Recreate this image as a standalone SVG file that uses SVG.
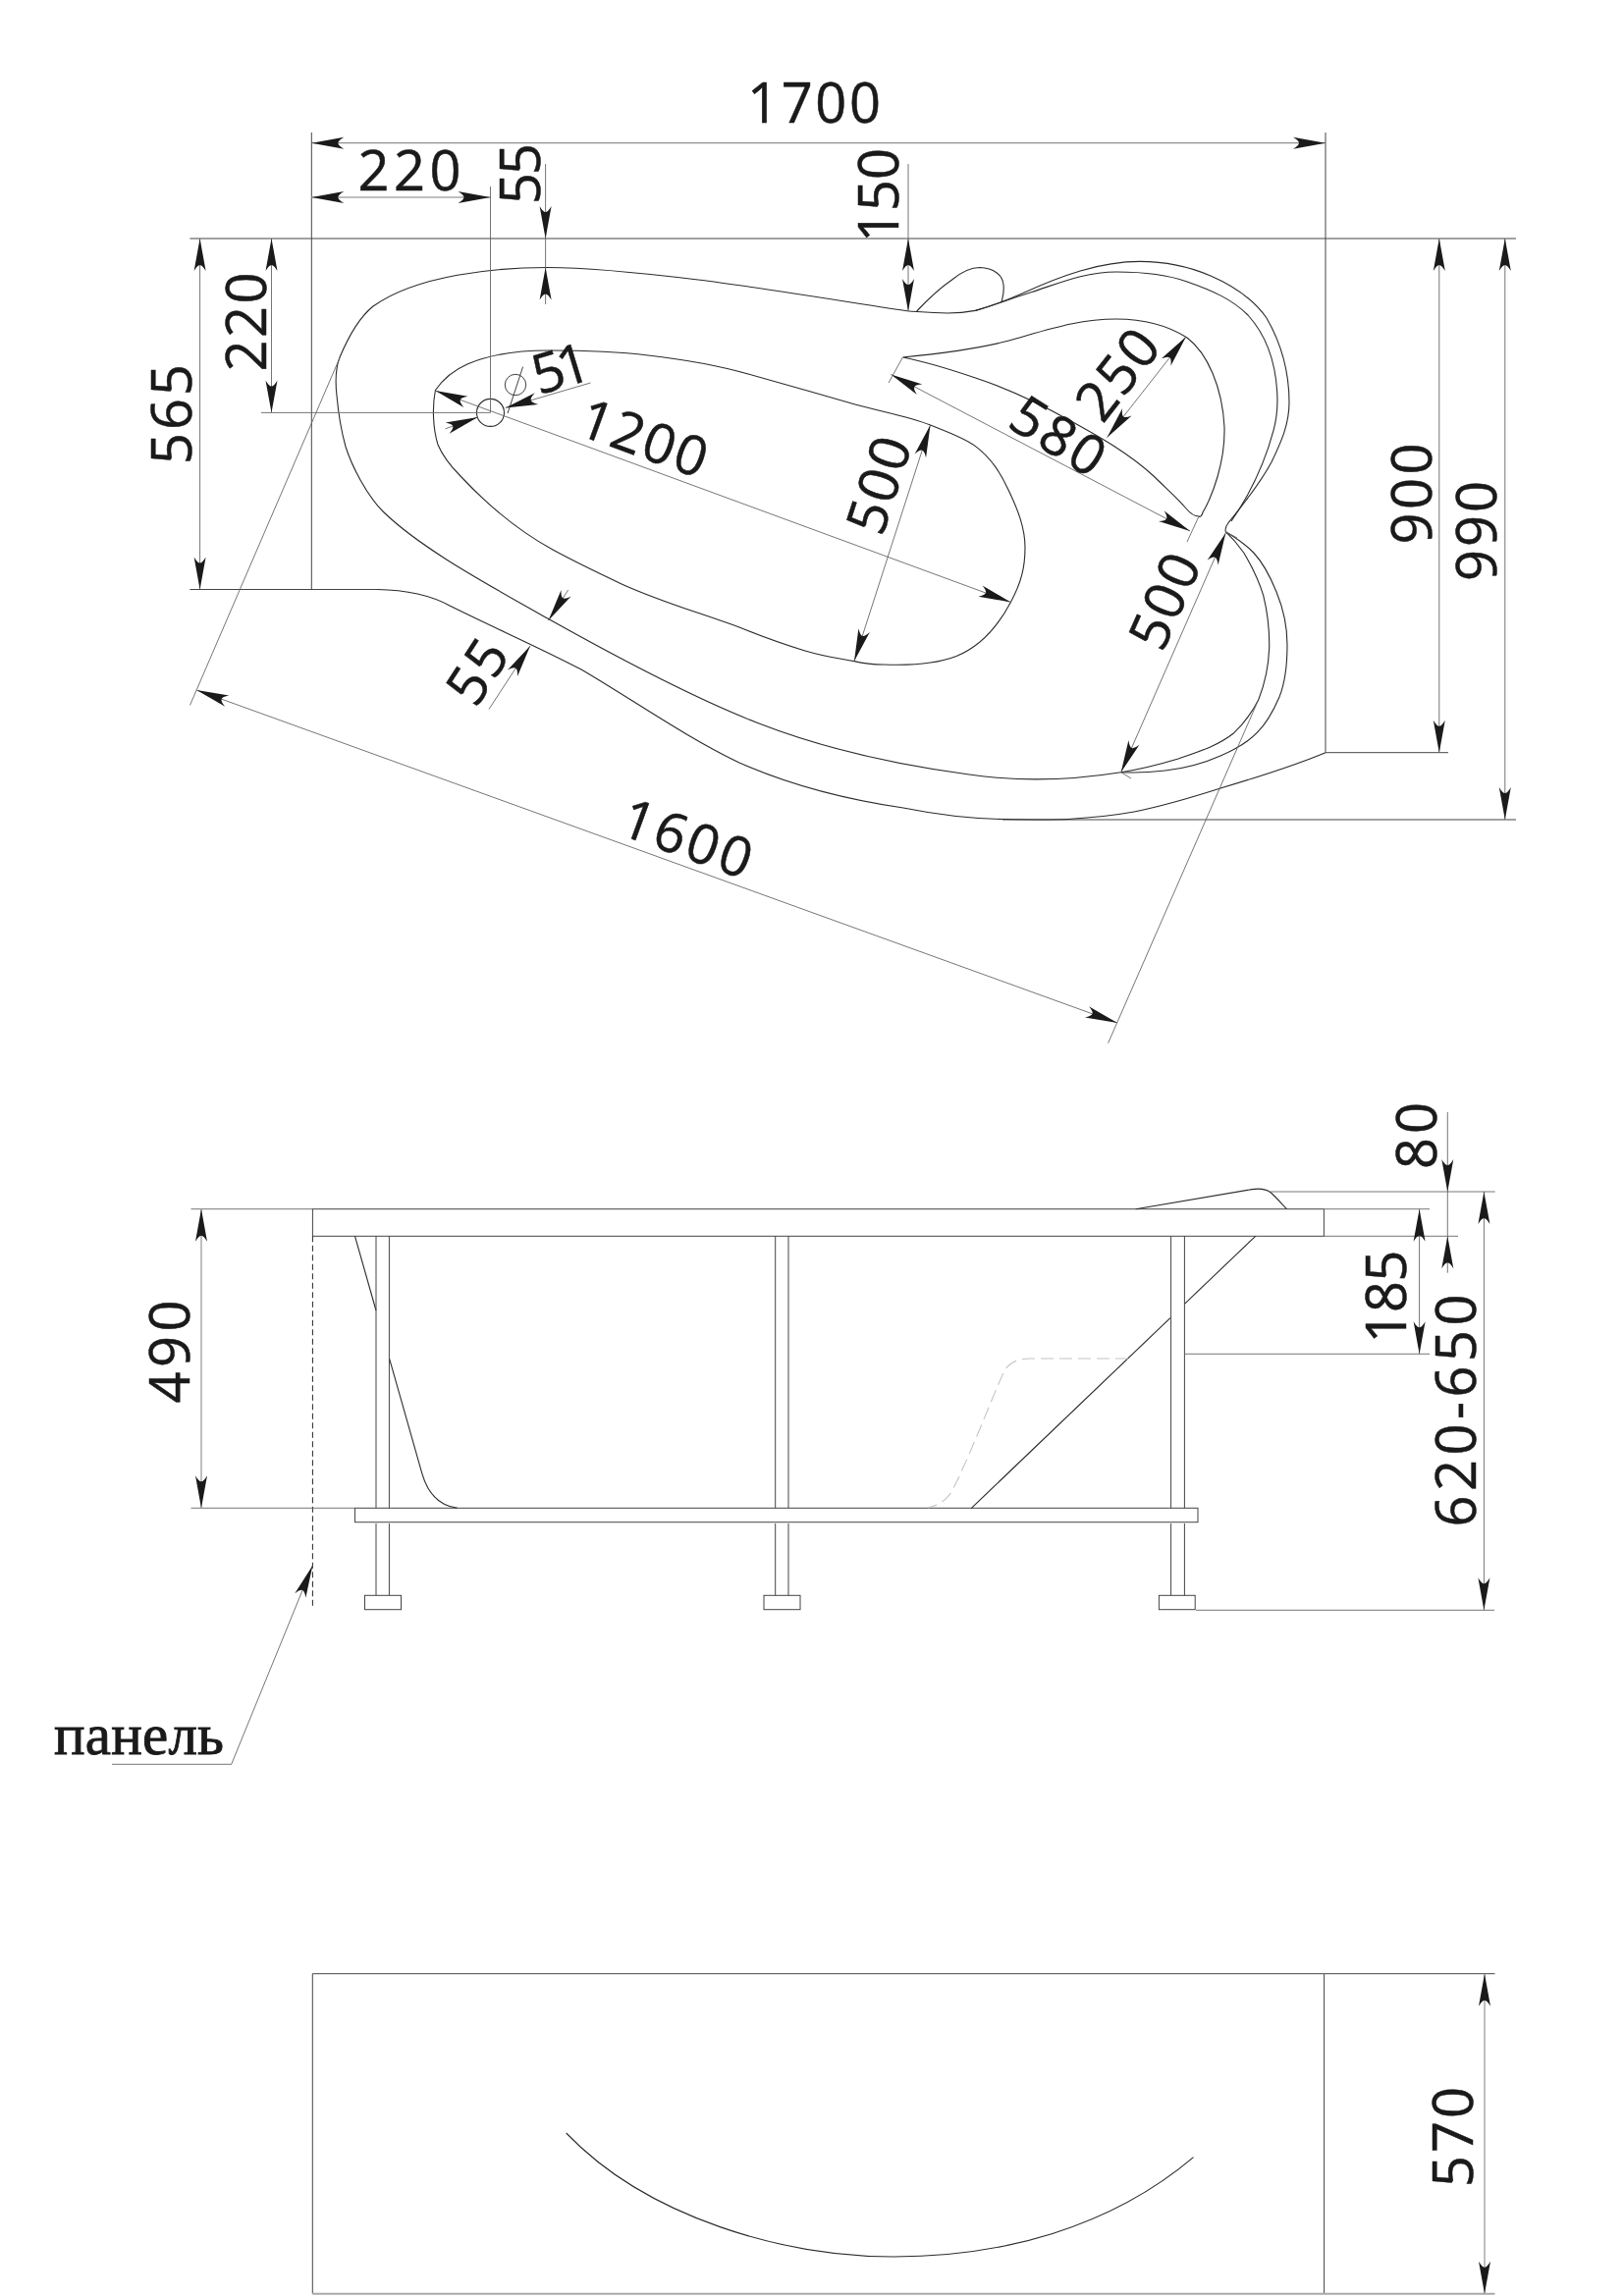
<svg xmlns="http://www.w3.org/2000/svg" width="1654" height="2339" viewBox="0 0 1654 2339">
<style>
.o{fill:none;stroke:#2b2b2b;stroke-width:1.1}
.t{fill:none;stroke:#444;stroke-width:1}
.d{fill:none;stroke:#666;stroke-width:.9}
.a{marker-end:url(#ah)}
.aa{marker-end:url(#ah);marker-start:url(#ah)}
.lg{stroke:#aaa;stroke-width:1.5}
.dash{fill:none;stroke:#222;stroke-width:1;stroke-dasharray:6 3.5}
.gd{fill:none;stroke:#c4c4c4;stroke-width:1.1;stroke-dasharray:13 6}
text{font-family:"Open Sans","Noto Sans",sans-serif;font-size:56px;fill:#1a1a1a;text-anchor:middle;stroke:#1a1a1a;stroke-width:.5}
.ru{font-family:"Liberation Serif",serif;font-size:59px;text-anchor:start;stroke-width:.9}
</style>
<defs>
<marker id="ah" markerUnits="userSpaceOnUse" markerWidth="36" markerHeight="13" refX="36" refY="6.5" orient="auto-start-reverse">
<path d="M36,6.5 L3,.5 Q9,4 9,6.5 Q9,9 3,12.5 Z" fill="#1a1a1a"/>
</marker>
</defs>
<rect width="1654" height="2339" fill="#fff"/>

<g id="plan-view">
<path id="frame" class="t" d="M317.3,135 V600.5 M193.4,243 H1544 M1350,135 V766.7 H1475 M1021,835 H1544 M193.4,600.5 H384"/>
<path id="outer-edge" class="o" d="M384,600.5 C412,601 438,606 458,617 C500,638 550,660 592,682 C640,710 700,752 753,777 C805,800 865,815 920,823 C955,830 990,834 1021,834.5 C1045,835 1066,835.5 1088,834.5 C1112,833 1133,831 1155,827 C1185,821 1215,812 1243,803 C1280,792 1318,780 1350,766.7"/>
<path id="rim" class="o" d="M925.5,317 C890,312 772,292.4 711,285 C650,277.6 600,272.5 558,272.5 C505,272.5 425,280 380,312 C365,324 354,345 346,364 C341,377 341.5,390 343,403 C344.5,420 347,437 352,455 C358,474 373,504 390,521 C430,560 500,597 558.6,630.6 C620,665 705,711 773,737 C845,765 920,780 987,789 C1035,796 1090,795 1141.7,786.7"/>
<path id="shell-outer" class="o" d="M925.5,317 C940,318 950,319 965,319 C975,319 985,318 993.5,316.4 C1010,312 1025,306 1041,299 C1080,281 1120,266.4 1161,266.4 C1188,266.4 1212,272 1233,281 C1256,291 1276,304 1290,324 C1305,350 1313,380 1313,410 C1313,432 1305,450 1295,470.7 C1282,495 1265,515 1252,531.4 C1250,534 1247,537 1248.3,541.7"/>
<path id="shell-inner" class="o" d="M993.5,316.4 C1012,311 1030,304 1051,297.5 C1080,288 1105,277 1137,277 C1162,277 1187,279 1209,287 C1235,296 1255,305 1271,321 C1290,342 1299,370 1300.7,399 C1301.5,412 1301,424 1297,438.6 C1288,472 1272,505 1254,531"/>
<path id="loop-outer" class="o" d="M1248.3,541.7 C1259,548 1268,554 1276.7,563 C1287,574 1294,588 1300,603 C1307,620 1311,638 1311,656.7 C1311,676 1309,695 1303,710 C1297,724 1290,737 1280,746.7 C1270,757 1257,764 1243,770 C1225,778 1205,783 1186.7,785 C1170,787 1155,787.5 1141.7,786.7"/>
<path id="loop-inner" class="o" d="M1248.3,541.7 C1255,548 1261,555 1266.7,563 C1275,577 1282,591 1286.7,606.7 C1291,624 1293,642 1292.7,660 C1292,679 1288,697 1281.7,713 C1275,726 1267,737 1256.7,746.7 C1240,760 1220,766 1200,773 C1180,779 1160,784 1141.7,786.7"/>
<path id="bowl" class="o" d="M443.4,397.5 C452,385 462,377 476.5,370.7 C500,361 530,357 558,357 C595,357 628,358 660,362 C695,366 730,372 762,381 C797,391 830,400 864,410 C895,419 925,424 947.5,433 C965,440 982,446 993.5,454.6 C1010,467 1019,482 1027,499 C1037,520 1044,538 1044,558 C1044,578 1040,594 1029.4,613.4 C1018,635 1000,658 974,668.5 C952,677 925,678 900,677 C890,677 880,676 870,673.6 C850,670 840,669 820,663 C797,656 775,648 753,639 C712,624 670,612 632,594.4 C610,584 585,572 563,560 C530,542 498,516 469,485 C458,474 451,465 446,453 C441,437 440,415 443.4,397.5 Z"/>
<path id="headrest" class="o" d="M919.4,364 C960,360 1000,355 1032,345.7 C1070,335 1100,325 1137,325 C1165,325 1190,332 1209,344 C1230,360 1245,395 1247,435 C1248,470 1235,505 1225,522 C1224,526 1222,527 1221,526 C1217,526 1213,524 1208,518 C1197,505 1187,497 1175,485 C1150,462 1120,445 1089,428 C1060,412 1030,397 993.5,385 C970,377 945,369 919.4,364 Z"/>
<path id="pillow" class="o" d="M933.7,317 C945,305 955,295 969.6,285 C978,278 988,272.5 998,272.5 C1012,273 1021,280 1022,290 C1023,298 1021,303 1020,308"/>
<circle id="drain" class="o" cx="499.5" cy="420.4" r="14"/>
<g id="diameter-mark" class="o" style="stroke-width:.9"><circle cx="525" cy="392" r="10.7"/><path d="M532.6,373.6 L517,421"/></g>
</g>

<g id="plan-dimensions">
<line class="d aa" x1="317.3" y1="145.7" x2="1350" y2="145.7"/>
<line class="d aa lg" x1="317.3" y1="201" x2="499.5" y2="201"/>
<path class="d" d="M499.5,190 V420.4 H266"/>
<path class="d" d="M555.6,243 V272.5"/>
<line class="d a" x1="555.6" y1="167" x2="555.6" y2="243"/>
<line class="d a" x1="555.6" y1="310" x2="555.6" y2="272.5"/>
<path class="d" d="M925,167 V243"/>
<line class="d aa" x1="925" y1="243" x2="925" y2="317"/>
<line class="d aa" x1="276.5" y1="243" x2="276.5" y2="420.4"/>
<line class="d aa" x1="203.6" y1="243" x2="203.6" y2="600.5"/>
<line class="d aa" x1="1465.8" y1="243" x2="1465.8" y2="766.7"/>
<line class="d aa" x1="1532.8" y1="243" x2="1532.8" y2="835"/>
<line class="d aa" x1="443.4" y1="398" x2="1029.4" y2="613.4"/>
<line class="d a" x1="453.6" y1="436.8" x2="486.7" y2="425"/>
<line class="d a" x1="601.5" y1="390" x2="514.8" y2="415.4"/>
<line class="d aa" x1="947.5" y1="433" x2="870" y2="673.6"/>
<line class="d aa" x1="1248.3" y1="543" x2="1141.7" y2="786.7"/>
<path class="d" d="M1141.7,786.7 L1152,793 M1248.3,541.7 L1260,548"/>
<line class="d aa" x1="1208" y1="343" x2="1127.5" y2="445.7"/>
<line class="d aa" x1="907.4" y1="381.4" x2="1212" y2="541"/>
<path class="d" d="M919.4,364 L905,390 M1221,526 L1209,552"/>
<line class="d a" x1="578.7" y1="601" x2="558.6" y2="632"/>
<line class="d a" x1="498" y1="722.5" x2="540" y2="658"/>
<line class="d aa" x1="200.2" y1="703" x2="1138" y2="1042"/>
<path class="d" d="M346.4,363.6 L193.5,718.4 M1280,716.7 L1128.6,1062.7"/>
</g>

<g id="plan-labels">
<text transform="translate(829,105)" y="20" textLength="136">1700</text>
<text transform="translate(417,174)" y="20" textLength="105">220</text>
<text transform="translate(530,177) rotate(-90)" y="20" textLength="62">55</text>
<text transform="translate(895,199) rotate(-90)" y="20" textLength="96">150</text>
<text transform="translate(251,328) rotate(-90)" y="20" textLength="101">220</text>
<text transform="translate(175,422) rotate(-90)" y="20" textLength="102">565</text>
<text transform="translate(571,375) rotate(-17)" y="20" textLength="58">51</text>
<text transform="translate(656,446) rotate(20)" y="20" textLength="134">1200</text>
<text transform="translate(895,494) rotate(-72)" y="20" textLength="100">500</text>
<text transform="translate(1186,612) rotate(-66)" y="20" textLength="100">500</text>
<text transform="translate(1138,381) rotate(-52)" y="20" textLength="100">250</text>
<text transform="translate(1078,444) rotate(32)" y="20" textLength="102">580</text>
<text transform="translate(486,684) rotate(-57)" y="20" textLength="66">55</text>
<text transform="translate(700,854) rotate(20)" y="20" textLength="137">1600</text>
<text transform="translate(1438,503) rotate(-90)" y="20" textLength="103">900</text>
<text transform="translate(1504,541) rotate(-90)" y="20" textLength="102">990</text>
</g>

<g id="side-view">
<rect id="tub-rim" class="t" x="318.4" y="1231.7" width="1030" height="27.6"/>
<rect id="frame-bar" class="t" x="361.5" y="1536.3" width="858.5" height="14.4"/>
<path id="tub-left" class="o" d="M361.5,1259.3 L383,1335 M396.4,1383.3 L430,1501.7 C436,1522 448,1534 465.8,1536.3"/>
<path id="tub-right" class="o" d="M1278.7,1259.3 L1206.4,1328.3 M1191.9,1342.7 L989.4,1536.3"/>
<path id="headrest-side" class="o" d="M1156.7,1231.7 L1275,1211.6 C1284,1210.4 1290,1211.5 1294.4,1215 C1300,1220 1305,1226 1310.5,1231.7"/>
<path id="hidden-edge" class="gd" d="M1149,1384 H1049.5 C1036,1384 1027,1389 1022.7,1396.7 C1010,1425 985,1490 969,1520 C962,1530 955,1534 945,1536"/>
<path id="panel-line" class="dash" d="M318.4,1259.3 V1639"/>
<g id="leg-1" class="t"><path d="M383,1259.3 V1536.3 M396.4,1259.3 V1536.3 M383,1552 V1625.3 M396.4,1552 V1625.3"/><rect x="371.5" y="1625.3" width="37" height="14.4"/></g>
<g id="leg-2" class="t"><path d="M789.7,1259.3 V1536.3 M803,1259.3 V1536.3 M789.7,1552 V1625.3 M803,1552 V1625.3"/><rect x="778" y="1625.3" width="37" height="14.4"/></g>
<g id="leg-3" class="t"><path d="M1192.6,1259.3 V1536.3 M1206.4,1259.3 V1536.3 M1192.6,1552 V1625.3 M1206.4,1552 V1625.3"/><rect x="1180.4" y="1625.3" width="36.8" height="14.4"/></g>
</g>

<g id="side-dimensions">
<path class="d" d="M194.5,1231.7 H318.4 M194.5,1536.3 H361.5 M1294,1214 H1522.7 M1348.4,1231.7 H1456 M1348.4,1259.3 H1485 M1206.4,1379.3 H1456 M1218,1640.3 H1522"/>
<line class="d aa lg" x1="205" y1="1231.7" x2="205" y2="1536.3"/>
<line class="d aa" x1="1445.6" y1="1231.7" x2="1445.6" y2="1379.3"/>
<line class="d a" x1="1474.3" y1="1133" x2="1474.3" y2="1214"/>
<path class="d" d="M1474.3,1214 V1259.3"/>
<line class="d a" x1="1474.3" y1="1296.7" x2="1474.3" y2="1259.3"/>
<line class="d aa" x1="1511.4" y1="1214" x2="1511.4" y2="1640.3"/>
<polyline class="d a" points="114,1797.3 235.7,1797.3 318.3,1595"/>
</g>

<g id="side-labels">
<text transform="translate(173,1377) rotate(-90)" y="20" textLength="105">490</text>
<text transform="translate(1412,1321) rotate(-90)" y="20" textLength="95">185</text>
<text transform="translate(1443,1157) rotate(-90)" y="20" textLength="68">80</text>
<text transform="translate(1483,1437) rotate(-90)" y="20" textLength="237">620-650</text>
<text class="ru" x="55" y="1786.7" textLength="173">панель</text>
</g>

<g id="panel-view">
<path class="t" d="M318.3,2010.7 H1348.6 M318.3,2010.7 V2336.7 M1348.6,2010.7 V2336.7 M1348.6,2010.7 H1522.5"/>
<path fill="none" stroke="#aaa" stroke-width="2" d="M318.3,2336.7 H1522.5"/>
<path id="panel-curve" class="o" d="M576.7,2173 C660,2260 800,2299 910,2299 C1020,2299 1130,2270 1215.5,2197.7"/>
<line class="d aa lg" x1="1512" y1="2010.7" x2="1512" y2="2336.7"/>
<text transform="translate(1480,2177) rotate(-90)" y="20" textLength="102">570</text>
</g>
</svg>
